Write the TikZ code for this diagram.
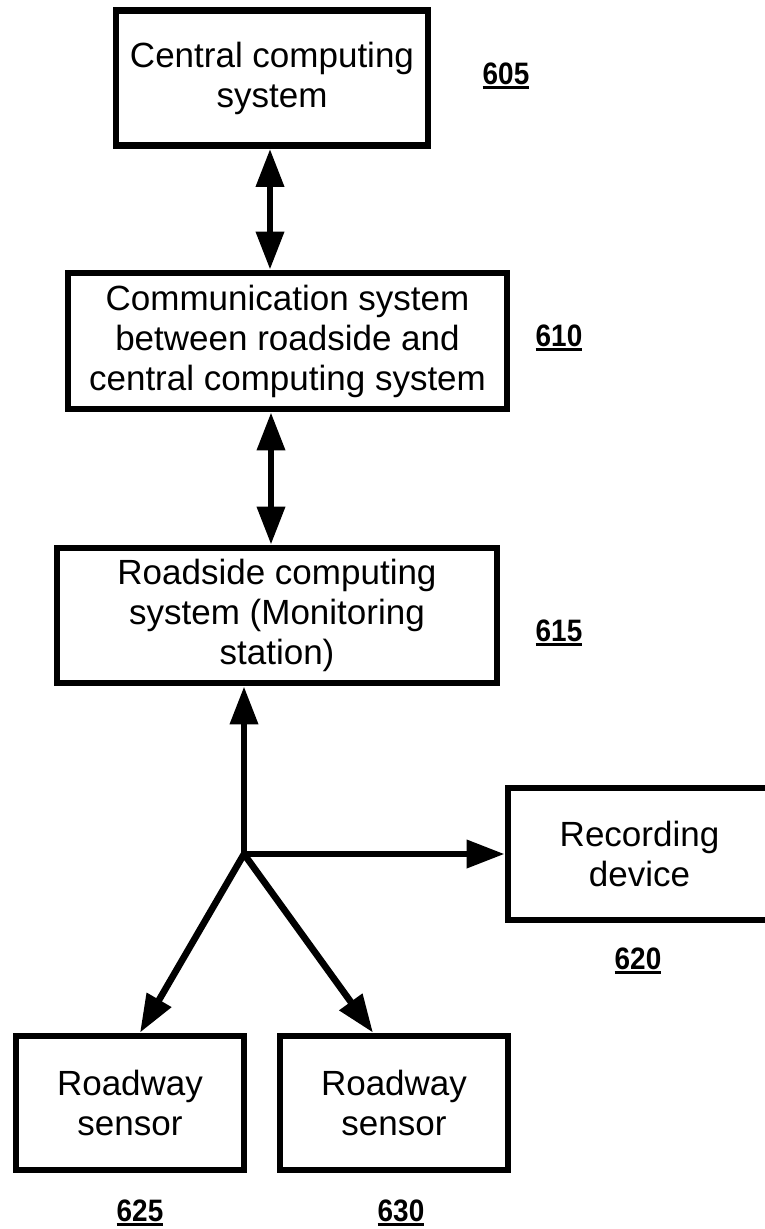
\documentclass[tikz,border=0pt]{standalone}
\usepackage{fontspec}
\setmainfont{Liberation Sans}
\usetikzlibrary{arrows.meta}
\newcommand\ulab[1]{\scalebox{0.9}[1]{\setbox0\hbox{#1}\rlap{\rule[-5pt]{\wd0}{3pt}}\box0}}
\begin{document}
\begin{tikzpicture}[x=1pt,y=1pt,
  box/.style={draw, line width=6.7pt, inner sep=0pt, align=center,
              font=\fontsize{35}{40}\selectfont},
  lab/.style={anchor=base, inner sep=0pt, font=\fontsize{31}{34}\selectfont\bfseries},
  conn/.style={line width=6.7pt, -{Triangle[length=38pt,width=27pt]}},
  dconn/.style={line width=6.7pt, {Triangle[length=38pt,width=27pt]}-{Triangle[length=38pt,width=27pt]}}]
\useasboundingbox (0,0) rectangle (765,-1229);
\fill[white] (0,0) rectangle (765,-1229);

\node[box, minimum width=312pt, minimum height=135pt] (ccs) at (272,-78) {Central computing\\system};
\node[box, minimum width=439pt, minimum height=136pt] (com) at (287.5,-341) {Communication system\\between roadside and\\central computing system};
\node[box, minimum width=440pt, minimum height=135pt] (rsc) at (277,-615.5) {Roadside computing\\system (Monitoring\\station)};
\node[box, minimum width=263pt, minimum height=132pt] (rec) at (639.5,-854) {Recording\\device};
\node[box, minimum width=228pt, minimum height=134pt] (rs1) at (130,-1103) {Roadway\\sensor};
\node[box, minimum width=228pt, minimum height=134pt] (rs2) at (394,-1103) {Roadway\\sensor};

\node[lab] (l605) at (506,-84) {\ulab{605}};
\node[lab] (l610) at (559,-346) {\ulab{610}};
\node[lab] (l615) at (559,-641) {\ulab{615}};
\node[lab] (l620) at (638,-969) {\ulab{620}};
\node[lab] (l625) at (140,-1221) {\ulab{625}};
\node[lab] (l630) at (401,-1221) {\ulab{630}};

\coordinate (a1) at (270,0);
\coordinate (a2) at (271,0);
\draw[dconn] (ccs.south -| a1) -- (com.north -| a1);
\draw[dconn] (com.south -| a2) -- (rsc.north -| a2);

\coordinate (j) at (244,-854);
\draw[conn] (j) -- (j |- rsc.south);
\draw[conn] (j) -- (j -| rec.west);
\draw[dconn] ([xshift=10pt]rs1.north) -- (j) -- ([xshift=-21pt]rs2.north);
\end{tikzpicture}
\end{document}
